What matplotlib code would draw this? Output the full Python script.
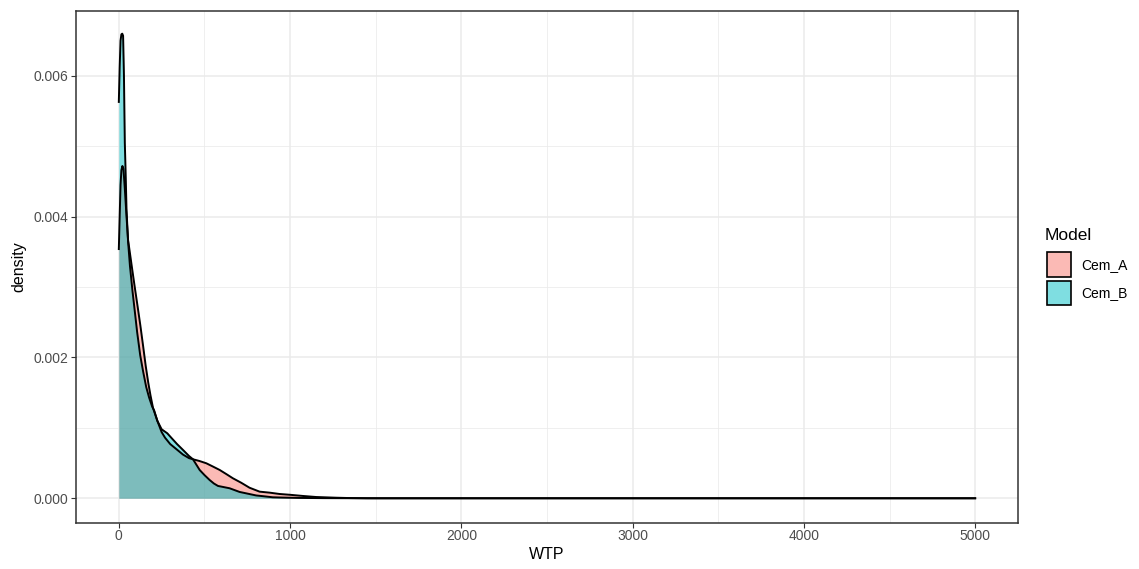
import numpy as np
import matplotlib
matplotlib.use("Agg")
import matplotlib.pyplot as plt
from matplotlib.patches import Rectangle

plt.rcParams['font.family'] = ['Liberation Sans', 'DejaVu Sans']

# density curves
cem_a_x = [0, 5, 10, 15, 21, 27, 35, 45, 54, 65, 80, 93, 110, 126, 142, 157, 172, 185,
           200, 225, 250, 270, 300, 340, 375, 410, 433, 470, 511, 550, 589, 630, 666,
           715, 763, 822, 880, 938, 997, 1074, 1152, 1268, 1350, 1450, 2000, 3000,
           4000, 5000]
cem_a_y = [0.00354, 0.00400, 0.00445, 0.00466, 0.00472, 0.00468, 0.00440, 0.00400,
           0.00367, 0.00348, 0.00322, 0.00300, 0.00272, 0.00245, 0.00216, 0.00188,
           0.00164, 0.00146, 0.00128, 0.00110, 0.00094, 0.00086, 0.00077, 0.00069,
           0.00062, 0.00057, 0.000554, 0.00053, 0.000497, 0.00045, 0.000402, 0.00034,
           0.000284, 0.00022, 0.00015, 0.000094, 0.00008, 0.000061, 0.00005, 0.000033,
           0.000018, 0.000008, 0.000003, 0, 0, 0, 0, 0]

cem_b_x = [0, 5, 10, 15, 20, 25, 30, 35, 39, 45, 54, 65, 80, 95, 107, 125, 142, 160,
           177, 195, 206, 225, 250, 283, 310, 340, 375, 410, 433, 452, 472, 500, 530,
           555, 579, 610, 647, 705, 763, 802, 841, 899, 957, 1050, 1200, 1500, 2000,
           3000, 4000, 5000]
cem_b_y = [0.00563, 0.00612, 0.00650, 0.00659, 0.00660, 0.00657, 0.00600, 0.00505,
           0.00470, 0.00410, 0.00365, 0.00330, 0.00294, 0.00262, 0.00236, 0.00203,
           0.00180, 0.00158, 0.00143, 0.00130, 0.00125, 0.00110, 0.00098, 0.000923,
           0.00085, 0.00077, 0.000686, 0.00060, 0.000554, 0.00048, 0.000402, 0.00033,
           0.00026, 0.00021, 0.000175, 0.00016, 0.000142, 0.00009, 0.00006, 0.00004,
           0.00003, 0.000014, 0.00001, 0.000005, 0.000002, 0, 0, 0, 0, 0]

models = ['Cem_A', 'Cem_B']
colors = ['#F8766D', '#00BFC4']

fig = plt.figure(figsize=(11.39, 5.69), dpi=100)
ax = fig.add_axes([76 / 1139, 1 - 522.7 / 569, 942 / 1139, 512 / 569])

for xs, ys, c in [(cem_a_x, cem_a_y, colors[0]), (cem_b_x, cem_b_y, colors[1])]:
    ax.fill_between(xs, ys, 0, color=c, alpha=0.5, linewidth=0, zorder=2)
    ax.plot(xs, ys, color='black', linewidth=1.4, zorder=3)

ax.set_xlim(-250, 5250)
ax.set_ylim(-0.000347, 0.006926)
ax.set_xticks([0, 1000, 2000, 3000, 4000, 5000])
ax.set_xticks([500, 1500, 2500, 3500, 4500], minor=True)
ax.set_yticks([0.000, 0.002, 0.004, 0.006])
ax.set_yticks([0.001, 0.003, 0.005], minor=True)
ax.set_yticklabels(['0.000', '0.002', '0.004', '0.006'])
ax.grid(True, which='major', color='#EBEBEB', linewidth=1.1, zorder=0)
ax.grid(True, which='minor', color='#EBEBEB', linewidth=0.55, zorder=0)
ax.set_axisbelow(True)
ax.tick_params(which='major', length=3.5, width=0.8, color='#333333',
               labelsize=10, labelcolor='#4D4D4D')
ax.tick_params(axis='x', which='major', pad=1)
ax.tick_params(axis='y', which='major', pad=2)
ax.tick_params(which='minor', length=0)
for s in ax.spines.values():
    s.set_color('#333333')
    s.set_linewidth(1.1)
ax.set_xlabel('WTP', fontsize=11.5, labelpad=3)
ax.set_ylabel('density', fontsize=11.5, labelpad=5)

# legend drawn like ggplot's
fig.text(1045 / 1139, 1 - 235 / 569, 'Model', fontsize=12.5, va='center', ha='left')
for i, (m, c) in enumerate(zip(models, colors)):
    top = 252.5 + i * 28
    fig.patches.append(Rectangle((1047 / 1139, 1 - (top + 24.5) / 569), 24 / 1139, 24.5 / 569,
                                 transform=fig.transFigure, facecolor=c, alpha=0.5,
                                 edgecolor='none'))
    fig.patches.append(Rectangle((1047 / 1139, 1 - (top + 24.5) / 569), 24 / 1139, 24.5 / 569,
                                 transform=fig.transFigure, facecolor='none',
                                 edgecolor='black', linewidth=1.2))
    fig.text(1081 / 1139, 1 - (top + 12.5) / 569, m, fontsize=10, va='center', ha='left')

fig.savefig('out.png', dpi=100)
